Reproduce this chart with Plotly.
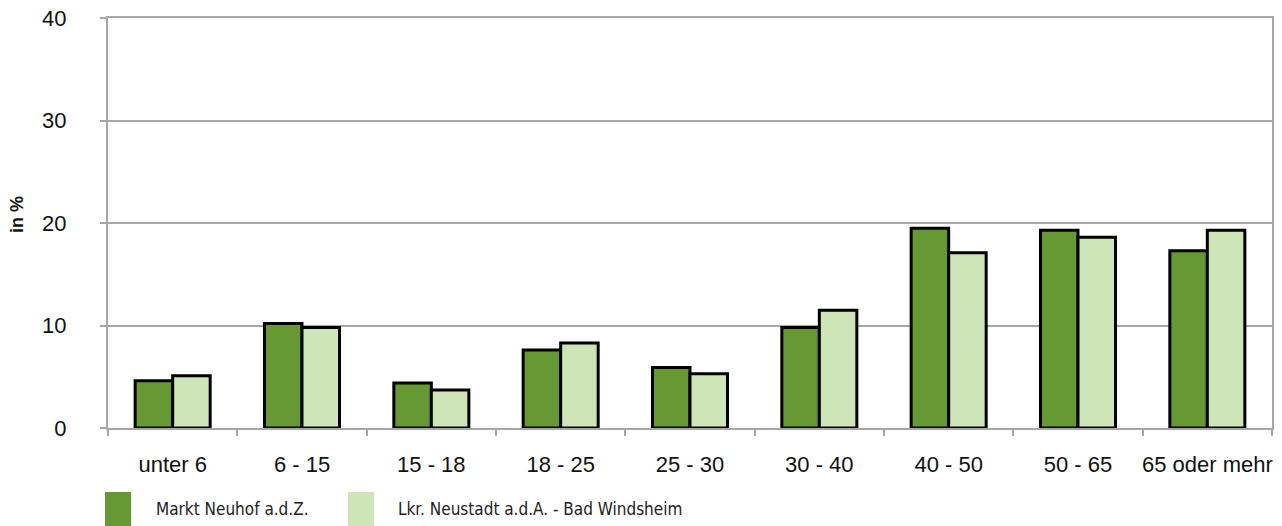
import plotly.graph_objects as go

categories = ["unter 6", "6 - 15", "15 - 18", "18 - 25", "25 - 30",
              "30 - 40", "40 - 50", "50 - 65", "65 oder mehr"]
neuhof = [4.6, 10.2, 4.4, 7.6, 5.9, 9.8, 19.5, 19.3, 17.3]
landkreis = [5.1, 9.8, 3.7, 8.3, 5.3, 11.5, 17.1, 18.6, 19.3]
series_names = ["Markt Neuhof a.d.Z.", "Lkr. Neustadt a.d.A. - Bad Windsheim"]
y_ticks = [0, 10, 20, 30, 40]

dark_green = "#669933"
light_green = "#cde5b7"
grid_col = "#a6a6a6"

W, H = 1282, 526
L, R, T, B = 108, 10, 18, 98
pw, ph = W - L - R, H - T - B


# pixel position on the page -> paper coordinates
def px(x):
    return (x - L) / pw


def py(y):
    return (H - B - y) / ph


fig = go.Figure()
fig.add_trace(go.Bar(x=categories, y=neuhof, name=series_names[0],
                     marker=dict(color=dark_green, line=dict(color="black", width=3))))
fig.add_trace(go.Bar(x=categories, y=landkreis, name=series_names[1],
                     marker=dict(color=light_green, line=dict(color="black", width=3))))

# legend drawn as big swatches below the plot, like the original
legend_items = [(series_names[0], dark_green, 105, 155),
                (series_names[1], light_green, 348, 397)]
for name, col, sx, tx in legend_items:
    fig.add_shape(type="rect", xref="paper", yref="paper",
                  x0=px(sx), x1=px(sx + 26), y0=py(527), y1=py(492),
                  fillcolor=col, line_width=0, layer="above")
    fig.add_annotation(text=name, xref="paper", yref="paper",
                       x=px(tx - 1), y=py(509),
                       xanchor="left", yanchor="middle", showarrow=False,
                       font=dict(family="DejaVu Sans Condensed", size=17, color="#222222"))

fig.add_annotation(text="<b>in %</b>", xref="paper", yref="paper",
                   x=px(17), y=py(215), textangle=-90, showarrow=False,
                   xanchor="center", yanchor="middle",
                   font=dict(family="Liberation Sans", size=18, color="#111111"))

fig.update_layout(
    width=W, height=H,
    margin=dict(l=L, r=R, t=T, b=B),
    paper_bgcolor="white", plot_bgcolor="white",
    barmode="group", bargap=0.42, bargroupgap=0,
    showlegend=False,
    font=dict(family="Liberation Sans", size=22, color="#111111"),
)
fig.update_xaxes(
    automargin=False, mirror=True,
    showline=True, linecolor=grid_col, linewidth=2,
    ticks="outside", tickson="boundaries", ticklen=6, tickcolor=grid_col, tickwidth=2,
    tickfont=dict(size=22), tickangle=0, ticklabelstandoff=16, showgrid=False,
    ticklabeloverflow="allow",
)
fig.update_yaxes(
    automargin=False,
    range=[0, 40], tickvals=y_ticks, showline=True, linecolor=grid_col, linewidth=2,
    mirror=True, ticks="outside", ticklen=6, tickcolor=grid_col, tickwidth=2,
    showgrid=True, gridcolor=grid_col, gridwidth=2, zeroline=False,
    tickfont=dict(size=22), ticklabelstandoff=29, ticklabeloverflow="allow",
)

# drop the browser's default 8px body margin so the figure fills the window
fig.write_html("out.html", config={"displayModeBar": False},
               post_script="document.body.style.margin = '0';")
